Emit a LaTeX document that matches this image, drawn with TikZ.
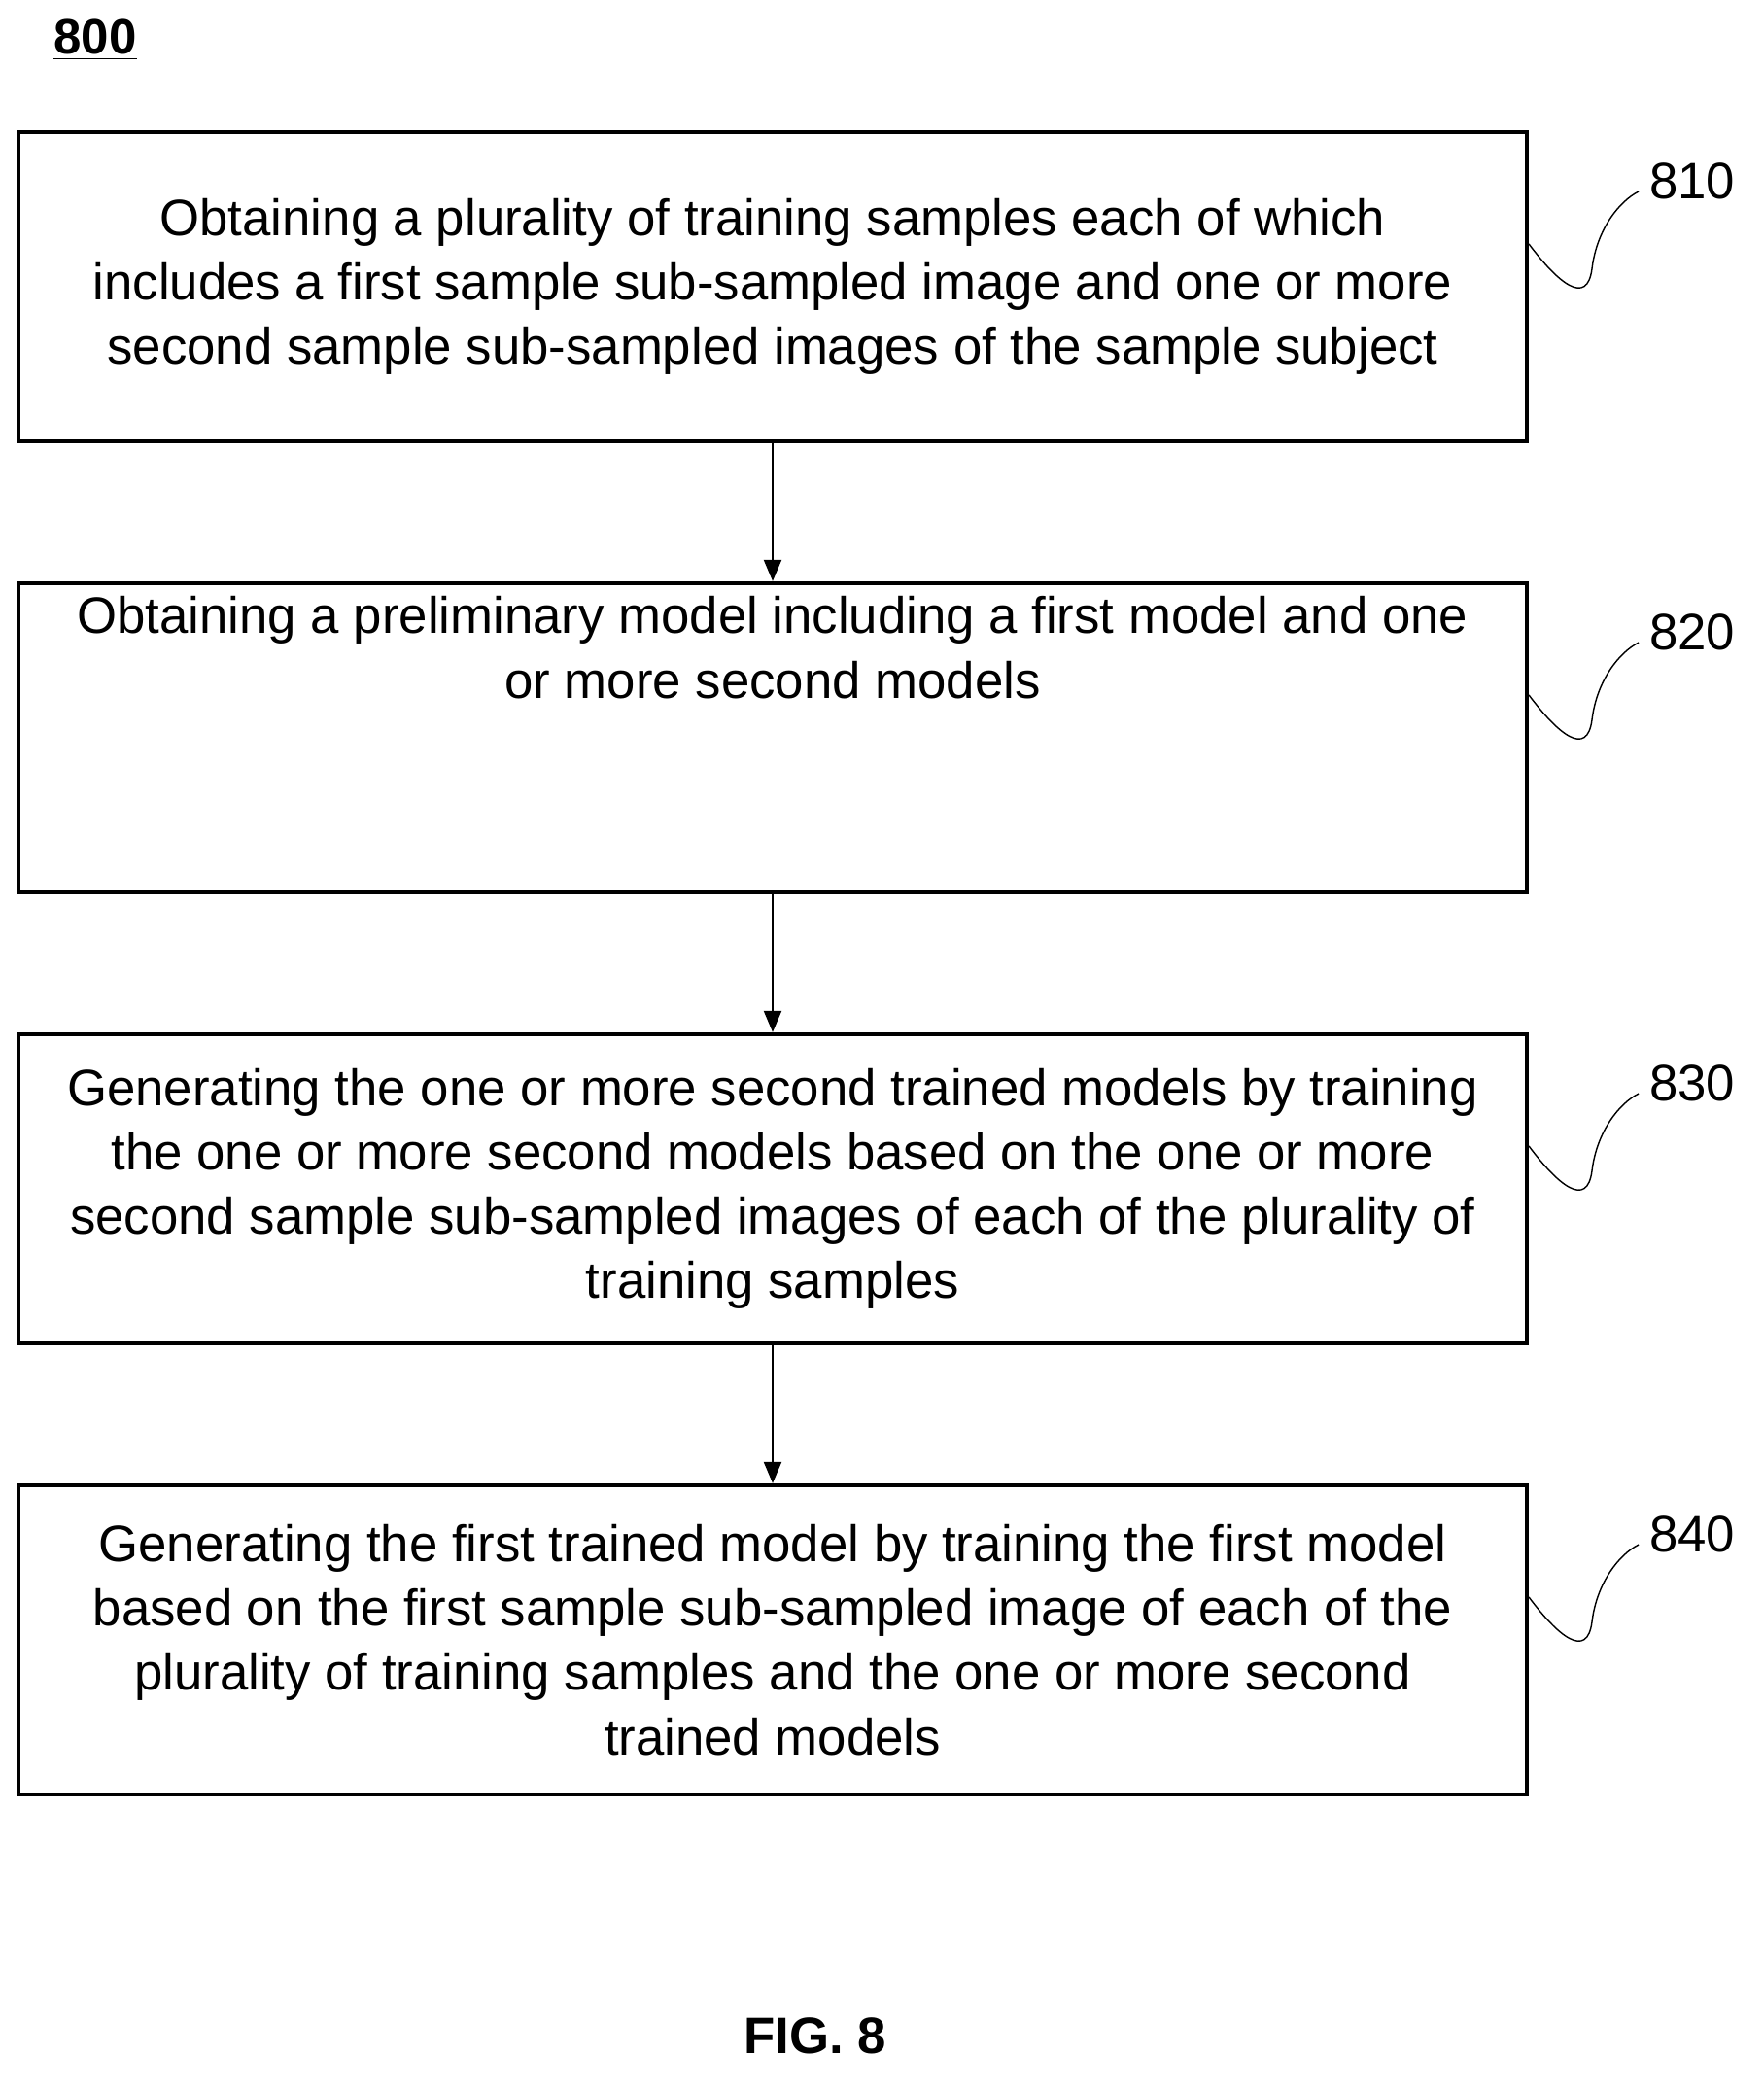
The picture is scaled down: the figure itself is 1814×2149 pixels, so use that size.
\documentclass[tikz,border=0pt]{standalone}
\usepackage{fontspec}
\setmainfont{Liberation Sans}
\usetikzlibrary{arrows}
\newcommand{\stepsquig}[2]{%
  \draw (#1.east) ++(0,-44) .. controls +(30,40) and +(-5,40) .. ++(65,25)
        .. controls +(5,-40) and +(-20,10) .. ++(48,-79);
  \node (#1lbl) at ([shift={(168,-109)}]#1.east) {#2};}

\begin{document}
\begin{tikzpicture}[x=0.01cm,y=-0.01cm,
    stepbox/.style={draw, line width=1.2pt,
      minimum width=15.51cm, minimum height=3.18cm, align=center,
      font=\fontsize{15}{18.8}\selectfont},
    every node/.style={font=\fontsize{15}{18.8}\selectfont}]
            \useasboundingbox (0,0) rectangle (1814,2149);

            \node[font=\bfseries\fontsize{14.5}{18}\selectfont] (fig) at (98,41) {\underline{800}};

            \node[stepbox] (s810) at (795,295) {Obtaining a plurality of training samples each of which\\includes a first sample sub-sampled image and one or more\\second sample sub-sampled images of the sample subject};
            \node[stepbox] (s820) at (795,759) {Obtaining a preliminary model including a first model and one\\or more second models\\[1.2cm]};
            \node[stepbox] (s830) at (795,1223) {Generating the one or more second trained models by training\\the one or more second models based on the one or more\\second sample sub-sampled images of each of the plurality of\\training samples};
            \node[stepbox] (s840) at (795,1687) {Generating the first trained model by training the first model\\based on the first sample sub-sampled image of each of the\\plurality of training samples and the one or more second\\trained models};

            \draw[-triangle 45] (s810) -- (s820);
            \draw[-triangle 45] (s820) -- (s830);
            \draw[-triangle 45] (s830) -- (s840);

            \stepsquig{s810}{810}
            \stepsquig{s820}{820}
            \stepsquig{s830}{830}
            \stepsquig{s840}{840}

            \node (cap) at (839,2094) {\textbf{FIG. 8}};
        \end{tikzpicture}
\end{document}
